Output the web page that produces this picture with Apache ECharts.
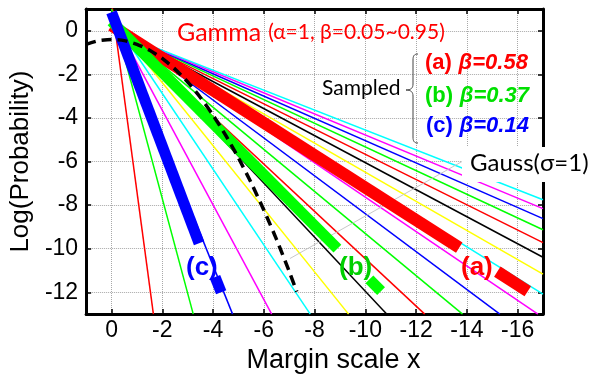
<!DOCTYPE html>
<html>
<head>
<meta charset="utf-8">
<script src="https://cdn.jsdelivr.net/npm/echarts@6/dist/echarts.min.js"></script>
<style>
  html, body { margin: 0; padding: 0; background: #fff; }
  #chart { width: 602px; height: 379px; }
</style>
</head>
<body>
<div id="chart"></div>
<script>
// Gamma(α=1) log-densities, one straight line per β: start at x = 0, end where it leaves the frame
const gammaBeta   = [0.05, 0.10, 0.15, 0.20, 0.25, 0.30, 0.35, 0.40, 0.45, 0.50,
                     0.55, 0.60, 0.65, 0.70, 0.75, 0.80, 0.85, 0.90, 0.95];
const gammaStartY = [1.30, 1.00, 0.82, 0.70, 0.60, 0.52, 0.46, 0.40, 0.35, 0.30,
                     0.26, 0.22, 0.19, 0.15, 0.12, 0.10, 0.07, 0.05, 0.02];
const gammaEndX   = [-1.65, -3.22, -4.77, -6.31, -7.83, -9.34, -10.84, -12.34, -13.83, -15.30,
                     -16.80, -17, -17, -17, -17, -17, -17, -17, -17];
const gammaEndY   = [-13, -13, -13, -13, -13, -13, -13, -13, -13, -13,
                     -13, -12.08, -11.17, -10.39, -9.72, -9.13, -8.62, -8.16, -7.75];
const gammaColors = ['#ff0000', '#00ff00', '#0000ff', '#ff00ff', '#00ffff', '#ffff00', '#000000'];

// Sampled fits, each drawn as two pieces (broken where its tag sits)
const sampledA = [[[0, 0.24], [-13.7, -9.95]], [[-15.2, -11.05], [-16.4, -11.95]]];   // β=0.58
const sampledB = [[[0, 0.43], [-8.9, -10.0]],  [[-10.16, -11.41], [-10.62, -11.95]]]; // β=0.37
const sampledC = [[[0, 0.85], [-3.45, -9.75]], [[-4.08, -11.3], [-4.32, -12.0]]];     // β=0.14

// Gaussian (σ=1) log-density
const gaussX = [1, 0.5, 0, -0.5, -1, -1.5, -2, -2.5, -3, -3.5, -4, -4.5, -5, -5.5, -6, -6.5, -7, -7.3];
const gaussY = [-0.62, -0.45, -0.40, -0.45, -0.62, -0.89, -1.27, -1.76, -2.35, -3.06,
                -3.87, -4.80, -5.83, -6.97, -8.22, -9.57, -11.04, -11.97];

// Pointer from the "Gauss(σ=1)" tag to the curve
const gaussPointer = [[-13.87, -5.96], [-7.03, -10.45]];

const chart = echarts.init(document.getElementById('chart'));

const series = [];
gammaBeta.forEach((b, i) => {
  series.push({
    name: 'β=' + b.toFixed(2),
    type: 'line',
    data: [[0, gammaStartY[i]], [gammaEndX[i], gammaEndY[i]]],
    showSymbol: false,
    silent: true,
    lineStyle: { color: gammaColors[i % gammaColors.length], width: 1.5 },
    z: 2
  });
});

series.push({
  type: 'line',
  data: gaussPointer,
  showSymbol: false,
  silent: true,
  lineStyle: { color: '#c8c8c8', width: 1 },
  z: 2
});

const sampledSets = [
  { pieces: sampledA, color: '#ff0000', width: 12 },
  { pieces: sampledB, color: '#00ff00', width: 11 },
  { pieces: sampledC, color: '#0000ff', width: 11 }
];
sampledSets.forEach(set => {
  set.pieces.forEach(piece => {
    series.push({
      type: 'line',
      data: piece,
      showSymbol: false,
      silent: true,
      lineStyle: { color: set.color, width: set.width, cap: 'butt' },
      z: 3
    });
  });
});

series.push({
  type: 'line',
  data: gaussX.map((x, i) => [x, gaussY[i]]),
  showSymbol: false,
  silent: true,
  smooth: 0.2,
  lineStyle: { color: '#000', width: 3.5, type: [10, 6] },
  z: 4
});

const tickFont = { fontFamily: 'Liberation Sans, Arial, sans-serif', fontSize: 23, color: '#000' };
const frameLine = { show: true, onZero: false, lineStyle: { color: '#000', width: 3 } };
const innerTick = { show: true, inside: true, length: 5, lineStyle: { color: '#000', width: 1.5 } };
const dotted = { show: true, lineStyle: { color: '#a8a8a8', width: 1, type: 'dotted' } };

// Curly brace grouping the three sampled fits
const braceStyle = { stroke: '#444', lineWidth: 1, fill: null };
const brace = [
  { type: 'bezierCurve', shape: { x1: 418, y1: 54, cpx1: 414, cpy1: 54, cpx2: 413, cpy2: 56, x2: 413, y2: 60 } },
  { type: 'line', shape: { x1: 413, y1: 60, x2: 413, y2: 84 } },
  { type: 'bezierCurve', shape: { x1: 413, y1: 84, cpx1: 413, cpy1: 88, cpx2: 411, cpy2: 90, x2: 406, y2: 90 } },
  { type: 'bezierCurve', shape: { x1: 406, y1: 90, cpx1: 411, cpy1: 90, cpx2: 413, cpy2: 92, x2: 413, y2: 96 } },
  { type: 'line', shape: { x1: 413, y1: 96, x2: 413, y2: 137 } },
  { type: 'bezierCurve', shape: { x1: 413, y1: 137, cpx1: 413, cpy1: 141, cpx2: 414, cpy2: 143, x2: 418, y2: 143 } }
].map(el => Object.assign(el, { z: 60, style: braceStyle }));

function tagRich(color) {
  return {
    n: { fontFamily: 'Liberation Sans, Arial', fontWeight: 'bold', fontSize: 22, fill: color },
    b: { fontFamily: 'Liberation Sans, Arial', fontWeight: 'bold', fontStyle: 'italic', fontSize: 22, fill: color }
  };
}

chart.setOption({
  animation: false,
  backgroundColor: '#fff',
  grid: { left: 81, right: 59, top: 9, bottom: 57, containLabel: false },
  xAxis: [
    {
      type: 'value', min: -17, max: 1, splitNumber: 9, inverse: true, position: 'bottom',
      axisLine: frameLine, axisTick: innerTick, splitLine: dotted,
      axisLabel: Object.assign({ margin: 5, showMinLabel: false, showMaxLabel: false }, tickFont),
      name: 'Margin scale x', nameLocation: 'middle', nameGap: 24,
      nameTextStyle: { fontFamily: 'Liberation Sans, Arial, sans-serif', fontSize: 27, color: '#000',
                       padding: [0, 0, 0, 38] }
    },
    {
      type: 'value', min: -17, max: 1, splitNumber: 9, inverse: true, position: 'top',
      axisLine: frameLine, axisTick: innerTick, splitLine: { show: false },
      axisLabel: { show: false }
    }
  ],
  yAxis: [
    {
      type: 'value', min: -13, max: 1, splitNumber: 7, position: 'left',
      axisLine: frameLine, axisTick: innerTick, splitLine: dotted,
      axisLabel: Object.assign({ margin: 8, showMinLabel: false, showMaxLabel: false }, tickFont),
      name: 'Log(Probability)', nameLocation: 'middle', nameGap: 42, nameRotate: 90,
      nameTextStyle: { fontFamily: 'Liberation Sans, Arial, sans-serif', fontSize: 26, color: '#000' }
    },
    {
      type: 'value', min: -13, max: 1, splitNumber: 7, position: 'right',
      axisLine: frameLine, axisTick: innerTick, splitLine: { show: false },
      axisLabel: { show: false }
    }
  ],
  series: series,
  graphic: [
    {
      type: 'text', x: 177, y: 20, z: 60,
      style: {
        text: '{g|Gamma}{p|(α=1, β=0.05~0.95)}',
        rich: {
          g: { fontFamily: 'Lato, sans-serif', fontSize: 25, fill: '#ff0000' },
          p: { fontFamily: 'Lato, sans-serif', fontSize: 21, fill: '#ff0000', padding: [0, 0, 0, 7] }
        }
      }
    },
    {
      type: 'text', x: 322, y: 78, z: 60,
      style: { text: 'Sampled', font: '21px Lato, sans-serif', fill: '#000' }
    }
  ].concat(brace, [
    { type: 'text', x: 425, y: 52, z: 60, style: { text: '{n|(a)}  {b|β=0.58}', rich: tagRich('#ff0000') } },
    { type: 'text', x: 425, y: 85, z: 60, style: { text: '{n|(b)}  {b|β=0.37}', rich: tagRich('#00e000') } },
    { type: 'text', x: 426, y: 115, z: 60, style: { text: '{n|(c)}  {b|β=0.14}', rich: tagRich('#0000ff') } },
    { type: 'text', x: 186, y: 255, z: 60, style: { text: '(c)', font: 'bold 26px Liberation Sans, Arial', fill: '#0000ff' } },
    { type: 'text', x: 339, y: 255, z: 60, style: { text: '(b)', font: 'bold 26px Liberation Sans, Arial', fill: '#00d000' } },
    { type: 'text', x: 461, y: 255, z: 60, style: { text: '(a)', font: 'bold 26px Liberation Sans, Arial', fill: '#ff0000' } },
    { type: 'rect', z: 59, shape: { x: 462, y: 147, width: 140, height: 35 }, style: { fill: '#fff' } },
    { type: 'text', x: 470, y: 151, z: 60, style: { text: 'Gauss(σ=1)', font: '24px Lato, sans-serif', fill: '#000' } }
  ])
});
</script>
</body>
</html>
